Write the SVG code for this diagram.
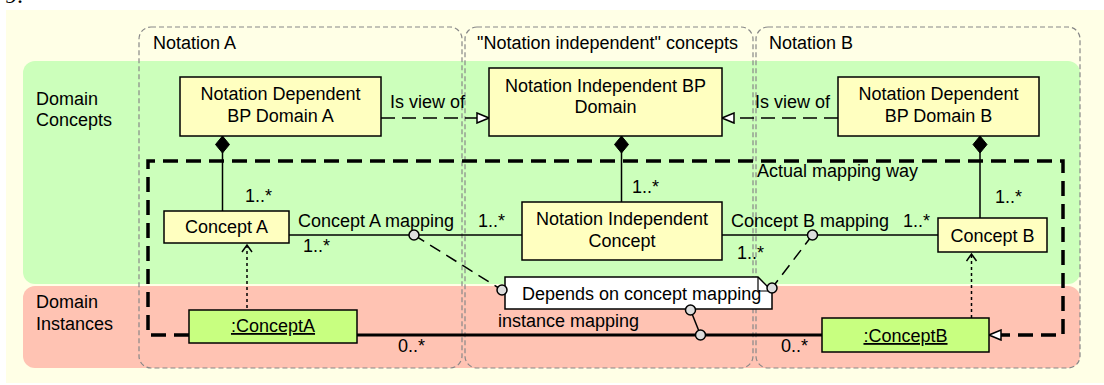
<svg xmlns="http://www.w3.org/2000/svg" width="1104" height="385" viewBox="0 0 1104 385">
<defs>
<style>
text{font-family:"Liberation Sans",Arial,sans-serif;font-size:18px;fill:#000}
.node{fill:#FFFFC0;stroke:#000;stroke-width:1.5}
.inst{fill:#C8FF80;stroke:#000;stroke-width:1.5}
.frame{fill:none;stroke:#888;stroke-width:1.2;stroke-dasharray:5 3}
.mid{text-anchor:middle}
.line{fill:none;stroke:#000;stroke-width:1.5}
.dash{fill:none;stroke:#000;stroke-width:1.5;stroke-dasharray:14 7}
.dot{fill:none;stroke:#000;stroke-width:1.5;stroke-dasharray:3 3}
.thick{fill:none;stroke:#000;stroke-width:3.5;stroke-dasharray:15 8}
.pin{fill:#DDDDDD;stroke:#000;stroke-width:1.5}
</style>
<marker id="tri" markerUnits="userSpaceOnUse" markerWidth="14" markerHeight="12" viewBox="0 0 14 12" refX="13" refY="6" orient="auto">
<path d="M1,1 L13,6 L1,11 Z" fill="#fff" stroke="#000" stroke-width="1.5" stroke-dasharray="none"/>
</marker>
<marker id="vee" markerUnits="userSpaceOnUse" markerWidth="12" markerHeight="12" viewBox="0 0 12 12" refX="10" refY="6" orient="auto">
<path d="M3,1 L10,6 L3,11" fill="none" stroke="#000" stroke-width="1.5" stroke-dasharray="none"/>
</marker>
<marker id="dia" markerUnits="userSpaceOnUse" markerWidth="18" markerHeight="16" viewBox="0 -8 18 16" refX="0" refY="0" orient="auto">
<path d="M0,0 L8.5,-7 L17,0 L8.5,7 Z" fill="#000" stroke="#000" stroke-width="1"/>
</marker>
</defs>

<text x="5" y="3" style="font-family:'Liberation Serif',serif;font-size:24px">9.</text>

<g id="background">
<rect x="6" y="10" width="1098" height="373" fill="#FFFFE6"/>
<rect x="23" y="61" width="1057" height="223" rx="12" fill="#CCFFBB"/>
<rect x="23" y="286" width="1057" height="82" rx="12" fill="#FFC3B3"/>
<text x="36" y="105">Domain</text>
<text x="36" y="126">Concepts</text>
<text x="36" y="308">Domain</text>
<text x="36" y="330">Instances</text>
</g>

<g id="frames">
<rect class="frame" x="139" y="27" width="323" height="341" rx="12"/>
<rect class="frame" x="465" y="27" width="288" height="341" rx="12"/>
<rect class="frame" x="756" y="27" width="324" height="341" rx="12"/>
<text x="153" y="49">Notation A</text>
<text x="477" y="49">"Notation independent" concepts</text>
<text x="769" y="49">Notation B</text>
</g>

<g id="connectors">
<path class="thick" d="M189,335 L148,335 L148,161 L1063,161 L1063,335 L989,335" marker-end="url(#tri)"/>
<text x="757" y="177">Actual mapping way</text>

<line class="dash" x1="381" y1="118" x2="489" y2="118" marker-end="url(#tri)"/>
<text x="390" y="108">Is view of</text>
<line class="dash" x1="838" y1="118" x2="722" y2="118" marker-end="url(#tri)"/>
<text x="755" y="108">Is view of</text>

<line class="line" x1="222.5" y1="136" x2="222.5" y2="211" marker-start="url(#dia)"/>
<text x="245" y="202">1..*</text>
<line class="line" x1="621.5" y1="136" x2="621.5" y2="202" marker-start="url(#dia)"/>
<text x="632" y="193">1..*</text>
<line class="line" x1="980" y1="136" x2="980" y2="218" marker-start="url(#dia)"/>
<text x="995" y="203">1..*</text>

<line class="line" x1="289" y1="235" x2="522" y2="235"/>
<text x="298" y="227">Concept A mapping</text>
<text x="303" y="252">1..*</text>
<text x="478" y="227">1..*</text>

<line class="line" x1="722" y1="235" x2="938" y2="235"/>
<text x="731" y="227">Concept B mapping</text>
<text x="737" y="259">1..*</text>
<text x="903" y="227">1..*</text>

<line class="line" x1="357" y1="335" x2="822" y2="335" style="stroke-width:3"/>
<text x="498" y="327">instance mapping</text>
<text x="398" y="352">0..*</text>
<text x="781" y="352">0..*</text>

<line class="dot" x1="247" y1="308" x2="247" y2="245" marker-end="url(#vee)"/>
<line class="dot" x1="971.5" y1="318" x2="971.5" y2="254" marker-end="url(#vee)"/>

<line class="dash" x1="414" y1="235" x2="502" y2="290" style="stroke-dasharray:12 7"/>
<line class="dash" x1="812.5" y1="235" x2="772" y2="288" style="stroke-dasharray:12 7"/>
<line class="line" x1="690.5" y1="310" x2="700.5" y2="335"/>
</g>

<g id="note">
<path d="M505,277 L758,277 L772,291 L772,309 L505,309 Z" fill="#fff" stroke="#000" stroke-width="1.5"/>
<path d="M758,277 L758,291 L772,291" fill="none" stroke="#000" stroke-width="1.2"/>
<text x="522" y="300">Depends on concept mapping</text>
</g>

<g id="pins">
<circle class="pin" cx="414" cy="235" r="5"/>
<circle class="pin" cx="812.5" cy="235" r="5"/>
<circle class="pin" cx="502" cy="290" r="5"/>
<circle class="pin" cx="772" cy="288" r="5"/>
<circle class="pin" cx="690.5" cy="310" r="5"/>
<circle class="pin" cx="700.5" cy="335" r="5"/>
</g>

<g id="domainA">
<rect class="node" x="180" y="77" width="201" height="59"/>
<text class="mid" x="280.5" y="100">Notation Dependent</text>
<text class="mid" x="280.5" y="122">BP Domain A</text>
</g>
<g id="domainNI">
<rect class="node" x="489" y="68" width="233" height="68"/>
<text class="mid" x="605.5" y="92">Notation Independent BP</text>
<text class="mid" x="605.5" y="113">Domain</text>
</g>
<g id="domainB">
<rect class="node" x="838" y="77" width="201" height="59"/>
<text class="mid" x="938.5" y="100">Notation Dependent</text>
<text class="mid" x="938.5" y="122">BP Domain B</text>
</g>
<g id="conceptA">
<rect class="node" x="164" y="211" width="125" height="32"/>
<text class="mid" x="226.5" y="233">Concept A</text>
</g>
<g id="conceptNI">
<rect class="node" x="522" y="202" width="200" height="58"/>
<text class="mid" x="622" y="225">Notation Independent</text>
<text class="mid" x="622" y="247">Concept</text>
</g>
<g id="conceptB">
<rect class="node" x="938" y="218" width="109" height="34"/>
<text class="mid" x="992.5" y="242">Concept B</text>
</g>
<g id="instA">
<rect class="inst" x="189" y="310" width="168" height="33"/>
<text class="mid" x="273" y="332" text-decoration="underline">:ConceptA</text>
</g>
<g id="instB">
<rect class="inst" x="822" y="318" width="167" height="34"/>
<text class="mid" x="905.5" y="342" text-decoration="underline">:ConceptB</text>
</g>
</svg>
